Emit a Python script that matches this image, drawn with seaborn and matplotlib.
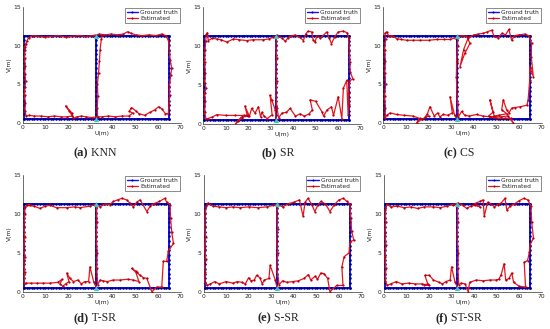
import matplotlib
matplotlib.use("Agg")
import matplotlib.pyplot as plt
from matplotlib.lines import Line2D
import seaborn as sns

# ---------------- data ----------------
panel_tags = ['(a)', '(b)', '(c)', '(d)', '(e)', '(f)']
panel_names = ['KNN', 'SR', 'CS', 'T-SR', 'S-SR', 'ST-SR']

# ground-truth route (corners, walked in order) and its sample marks
gt_path_u = [32.5, 0.5, 0.5, 64.8, 64.8, 32.5, 32.5]
gt_path_v = [0.5, 0.5, 11.3, 11.3, 0.5, 0.5, 11.3]
gt_u_marks = [0.5, 1.7, 2.9, 4.1, 5.2, 6.4, 7.6, 8.8, 10.0, 11.2, 12.4, 13.5, 14.7, 15.9,
              17.1, 18.3, 19.5, 20.6, 21.8, 23.0, 24.2, 25.4, 26.6, 27.7, 28.9, 30.1, 31.3,
              32.5, 33.7, 34.9, 36.1, 37.3, 38.5, 39.7, 40.9, 42.1, 43.3, 44.5, 45.7, 46.9,
              48.1, 49.3, 50.5, 51.7, 52.9, 54.1, 55.3, 56.5, 57.7, 58.9, 60.0, 61.2, 62.4,
              63.6, 64.8]
gt_v_marks = [0.5, 1.1, 1.7, 2.3, 2.9, 3.5, 4.1, 4.7, 5.3, 5.9, 6.5, 7.1, 7.7, 8.3, 8.9,
              9.5, 10.1, 10.7, 11.3]
gt_u_edges = [0.5, 32.5, 64.8]
gt_v_edges = [0.5, 11.3]
start_end_u = [32.5, 32.5]
start_end_v = [0.5, 11.3]

knn_est = [(32.6, 0.8), (30.5, 0.7), (28, 0.8), (26, 0.9), (24, 0.8), (22.5, 0.6), (21.8, 1.3),
           (19, 2.2), (20.5, 1.6), (22, 0.9), (19.5, 0.8), (17, 0.8), (14, 0.9), (11, 0.8),
           (8, 0.9), (5, 0.9), (3, 1.0), (1.5, 0.9), (1.0, 1.6), (1.2, 2.6), (0.8, 3.6),
           (1.0, 4.6), (1.3, 5.4), (0.9, 6.4), (1.1, 7.4), (0.8, 8.4), (1.0, 9.4), (1.4, 10.2),
           (1.0, 9.8), (1.8, 10.6), (2.6, 11.0), (4.5, 11.3), (7, 11.2), (10, 11.1), (13, 11.2),
           (16, 11.3), (19, 11.1), (22, 11.2), (25, 11.3), (28, 11.2), (31, 11.3), (34, 11.5),
           (36.5, 11.4), (39, 11.5), (42, 11.4), (44.5, 11.5), (46.5, 11.8), (48, 11.6),
           (50, 11.4), (53, 11.3), (56, 11.4), (59, 11.3), (61.5, 11.5), (63.5, 11.3),
           (64.6, 10.6), (65.0, 9.3), (65.3, 8.2), (66.0, 7.1), (65.6, 6.2), (65.0, 4.8),
           (65.1, 3.6), (64.8, 2.3), (64.5, 1.2), (63.2, 1.2), (61.8, 1.8), (60.2, 2.1),
           (58.5, 1.7), (56.5, 1.4), (54, 1.0), (51.5, 1.2), (50, 1.6), (48.2, 2.0), (47.2, 1.5),
           (48.8, 1.3), (47, 0.9), (44, 0.9), (41, 0.8), (38, 0.9), (35, 0.8), (33.2, 0.8),
           (33.0, 2.0), (33.3, 3.5), (33.1, 5.0), (33.6, 6.5), (34.0, 8.0), (34.3, 9.5),
           (34.8, 10.8), (35.2, 11.4)]

sr_est = [(32.4, 0.6), (32.0, 1.8), (30.4, 3.1), (29.7, 3.7), (30.6, 1.2), (28.5, 0.7), (27, 1.0),
          (26, 1.5), (25.5, 0.9), (24.5, 2.2), (23, 1.4), (21.5, 2.0), (20.5, 1.0), (18.5, 2.3),
          (19.5, 1.2), (17, 0.8), (15.5, 0.4), (14, -0.1), (17, 0.9), (20, 1.0), (18, 1.1),
          (14, 1.1), (10, 1.1), (6, 1.2), (4, 0.9), (2, 0.7), (1.2, 0.6), (0.6, 1.5), (0.9, 3.0),
          (0.6, 4.0), (1.2, 4.6), (0.7, 5.2), (0.9, 6.5), (0.6, 8.0), (0.8, 9.5), (1.0, 10.6),
          (1.4, 11.5), (1.8, 11.7), (2.2, 10.7), (4, 11.0), (6, 10.9), (8, 10.8), (10.4, 10.5),
          (13.4, 10.9), (16, 10.8), (19.3, 10.7), (22, 10.8), (26.7, 10.8), (29, 10.9),
          (31, 11.1), (33, 11.3), (35, 11.0), (36.5, 10.6), (37.5, 11.0), (39, 11.3),
          (40.8, 11.4), (43, 11.1), (44.5, 10.7), (45.5, 11.5), (46.5, 11.9), (48.2, 11.8),
          (48.8, 10.8), (49.7, 10.5), (50.5, 11.3), (52, 11.0), (54.9, 11.8), (56, 11.0),
          (57, 10.3), (58.5, 11.2), (60, 11.8), (62.3, 11.9), (64.0, 11.7), (64.6, 11.0),
          (65.0, 9.4), (65.2, 8.0), (65.3, 6.7), (66.5, 5.8), (65.0, 5.5), (64.6, 4.0),
          (64.8, 2.5), (64.4, 1.2), (63.8, 5.6), (62.3, 4.6), (61.6, 0.7), (60.0, 3.5),
          (57.9, 1.1), (57.0, 2.2), (55.0, 1.8), (53.5, 1.0), (52.7, 1.6), (50.0, 2.9),
          (47.5, 3.1), (48.5, 1.8), (47, 1.3), (45, 1.0), (43, 1.3), (41, 1.0), (38.6, 2.0),
          (37, 1.5), (35, 1.4), (33.5, 0.8), (32.8, 2.0), (32.2, 4.0), (32.7, 5.5), (32.2, 7.0),
          (32.6, 8.5), (32.3, 10.0), (32.6, 11.4)]

cs_est = [(32.5, 0.5), (31.5, 1.0), (29.5, 3.4), (30.5, 1.3), (28.5, 1.0), (26.5, 1.1), (25, 0.8),
          (24, 1.3), (22.5, 0.9), (20.6, 2.1), (19.5, 1.2), (18.5, 0.8), (20, 0.9), (17, 0.5),
          (14.7, 0.0), (16, 0.6), (13, 0.9), (9, 1.0), (5.9, 1.1), (3, 1.3), (1.5, 1.0),
          (0.8, 0.6), (0.9, 2.0), (0.6, 3.5), (1.0, 5.0), (0.7, 6.5), (0.9, 8.0), (0.6, 9.5),
          (1.0, 10.8), (0.7, 11.6), (1.5, 11.8), (2.5, 11.2), (4, 11.3), (5.9, 10.9), (8, 10.8),
          (10.3, 10.7), (13, 10.7), (16.2, 10.7), (20, 10.7), (23.6, 10.8), (27, 10.8),
          (29.5, 10.8), (31.5, 11.0), (33.1, 11.2), (35, 11.3), (36.8, 11.2), (38.3, 10.3),
          (36, 9.0), (33.9, 7.3), (35.5, 9.5), (37.5, 11.0), (40, 11.4), (42, 11.5), (44.2, 11.6),
          (46, 11.8), (47.9, 12.0), (49, 11.2), (50.5, 11.0), (52.5, 11.6), (54, 11.4),
          (55.5, 12.1), (56.7, 10.7), (58, 11.3), (60, 11.4), (62.5, 11.5), (64.2, 11.3),
          (65.5, 10.3), (65.4, 8.5), (66.3, 6.0), (64.8, 7.3), (64.7, 5.5), (64.0, 3.0),
          (63.5, 2.3), (60.4, 2.1), (58, 2.0), (56.7, 1.9), (55.5, 1.3), (54.5, 1.7), (53, 3.0),
          (52.3, 1.7), (54.6, 1.2), (51, 1.0), (49, 0.9), (47.1, 3.0), (48.5, 1.4), (46.5, 0.9),
          (50, 0.6), (54, 0.6), (56.5, 0.6), (57.4, 0.0), (55, 0.9), (52, 0.8), (47, 0.8),
          (44, 0.9), (41.2, 1.1), (38, 0.9), (36, 1.0), (34.6, 1.5), (33.2, 0.8), (32.8, 2.5),
          (32.5, 4.0), (32.3, 6.0), (32.4, 8.0), (32.8, 10.0), (33.0, 11.3)]

tsr_est = [(32.5, 0.6), (31.5, 1.2), (29.8, 3.2), (29.2, 1.3), (27.5, 1.3), (26, 1.0), (24.5, 1.5),
           (22.5, 1.3), (21, 1.7), (19.5, 2.4), (20.5, 1.3), (19, 1.0), (17.8, 0.7), (16.5, 1.0),
           (17.5, 1.6), (15.5, 1.2), (12, 1.1), (9, 1.1), (6.2, 1.1), (3.5, 1.1), (1.5, 1.1),
           (0.7, 1.0), (0.8, 2.5), (0.6, 4.0), (1.0, 4.4), (0.5, 5.5), (0.8, 7.0), (0.6, 8.5),
           (0.9, 10.0), (1.0, 10.9), (3.2, 11.2), (1.8, 11.1), (5, 11.0), (7.7, 10.7), (10, 11.0),
           (12, 11.1), (15, 10.8), (19.5, 10.8), (23, 10.9), (25.4, 10.8), (29.8, 11.0),
           (32, 11.2), (34.3, 10.9), (36.5, 11.3), (38.5, 11.2), (40.2, 11.6), (42, 11.8),
           (43.9, 12.0), (46, 11.8), (47.5, 11.4), (49, 10.9), (50.5, 11.5), (52, 11.8),
           (55, 10.3), (56.5, 11.0), (58, 11.3), (60.5, 11.6), (63, 12.0), (63.8, 11.5),
           (65.3, 11.2), (65.5, 9.5), (66, 7.7), (66.8, 6.2), (64.5, 5.2), (63.8, 3.9),
           (62.3, 3.9), (61.6, 0.6), (59.5, 0.6), (57.2, 0.0), (55, 1.7), (53.5, 1.8), (52, 2.1),
           (50.5, 2.5), (48.3, 3.0), (50, 2.6), (51.5, 1.3), (49, 1.5), (46.5, 1.6), (43, 1.5),
           (40, 1.5), (37.5, 1.3), (35.5, 1.4), (34.3, 1.5), (33.2, 0.9), (32.8, 3.0),
           (33.0, 5.0), (32.6, 7.0), (32.9, 9.0), (32.7, 11.0)]

ssr_est = [(32.5, 0.6), (31.8, 1.5), (29.5, 3.4), (29, 1.7), (27, 1.5), (26, 1.0), (25, 1.8),
           (23.5, 2.1), (22.5, 1.5), (21, 1.4), (20, 1.8), (18.5, 1.0), (17, 1.2), (15, 1.3),
           (13, 1.1), (10, 1.3), (7, 1.0), (5, 1.3), (3, 1.0), (1.5, 0.8), (0.6, 1.2), (0.8, 2.5),
           (0.4, 3.7), (1.0, 4.2), (0.6, 5.5), (0.9, 7.0), (0.6, 8.5), (0.8, 10.0), (1.2, 11.0),
           (2.0, 11.4), (4, 11.0), (7, 10.9), (10, 10.8), (13, 10.9), (16, 10.8), (20, 10.9),
           (24, 10.8), (28, 10.9), (31, 11.1), (33, 11.2), (35, 10.9), (37.5, 11.3), (40, 11.5),
           (42.5, 11.8), (44.1, 9.7), (45, 11.5), (46.3, 12.0), (48.0, 11.2), (49.3, 10.3),
           (50.8, 11.2), (52, 11.6), (54, 11.3), (56, 10.3), (58, 11.2), (60, 11.8), (62, 12.0),
           (63.5, 11.6), (64.8, 11.3), (65.3, 9.5), (65.6, 7.8), (66.6, 6.6), (64.8, 6.4),
           (64.5, 5.0), (62.3, 4.5), (61.3, 3.2), (61.8, 0.8), (59, 0.8), (56, 0.0), (55, 1.7),
           (53.5, 2.3), (52, 2.4), (50.5, 1.6), (49.5, 2.0), (47.5, 1.5), (46.5, 2.2),
           (44.5, 1.7), (42, 1.4), (39.5, 1.3), (37, 1.2), (35, 1.4), (33.5, 0.9), (32.5, 3.0),
           (32.8, 5.0), (32.4, 6.5), (32.8, 8.0), (32.5, 10.0), (32.8, 11.3)]

stsr_est = [(32.5, 0.6), (31.5, 1.3), (30, 3.2), (29.4, 1.5), (27.5, 1.3), (26, 1.0), (24.5, 1.2),
            (22, 1.5), (20.2, 2.1), (18.2, 2.1), (19.5, 1.0), (18, 0.9), (20, 0.8), (17, 1.0),
            (14, 1.0), (11, 1.1), (8, 1.0), (5.5, 1.3), (3, 1.0), (1.5, 0.8), (0.7, 1.4),
            (0.9, 3.0), (0.6, 4.5), (0.9, 6.0), (0.6, 7.5), (0.8, 9.0), (0.7, 10.5), (1.5, 11.3),
            (3, 10.9), (6, 11.0), (9, 10.8), (12, 10.9), (15, 10.7), (18, 10.9), (22, 10.9),
            (25, 10.8), (28, 11.0), (30.5, 11.2), (33, 11.4), (35, 11.1), (36.7, 10.7),
            (38.5, 11.0), (40.5, 11.1), (42.6, 10.9), (40, 11.3), (42.5, 11.6), (44, 11.8),
            (44.5, 9.7), (46, 11.5), (47.5, 11.3), (49, 10.9), (50.5, 11.2), (52, 11.4),
            (53.7, 12.0), (54.5, 10.5), (56, 11.0), (58, 11.3), (60, 11.7), (62, 12.0),
            (63.8, 11.8), (65.2, 11.0), (65.5, 9.0), (66.3, 6.9), (64.8, 6.0), (64.5, 5.1),
            (63.7, 4.0), (62.2, 3.8), (62.8, 0.6), (60, 0.7), (57.5, 1.2), (56.7, 2.4),
            (55.5, 1.7), (54, 1.5), (53.3, 3.6), (52, 2.2), (51, 1.6), (49.5, 1.5), (47, 1.5),
            (44, 1.4), (41, 1.5), (38, 1.2), (37.4, 0.0), (36, 1.0), (34.3, 1.1), (33.2, 0.9),
            (32.8, 3.0), (33.0, 5.0), (32.5, 7.0), (32.8, 9.0), (32.6, 11.2)]

estimates = [knn_est, sr_est, cs_est, tsr_est, ssr_est, stsr_est]

x_ticks = [0, 10, 20, 30, 40, 50, 60, 70]
y_ticks = [0, 5, 10, 15]

# ---------------- layout (pixels: left, top, width, height) ----------------
W, H = 550, 329
boxes = [(22.7, 7, 158, 116), (203.3, 7, 157.4, 117), (383.3, 7, 158.4, 116),
         (22.7, 175, 158, 116.7), (203.5, 175, 158, 116.7), (383.8, 175, 158, 116.7)]
caption_x = [95, 278, 459, 95, 278, 459]
caption_y = [153, 153, 153, 318, 318, 318]

sns.set_style("white")
plt.rcParams['font.family'] = ['DejaVu Sans']

fig = plt.figure(figsize=(W / 100, H / 100), dpi=100)
fig.patch.set_facecolor('white')

GT_BLUE = '#1010ff'
EST_RED = '#e8141c'

# dot positions along the ground truth route
dot_u = [u for u in gt_u_marks for _ in gt_v_edges] + [u for _ in gt_v_marks for u in gt_u_edges]
dot_v = [v for _ in gt_u_marks for v in gt_v_edges] + [v for v in gt_v_marks for _ in gt_u_edges]

caps = []
for i, (l, t, w, h) in enumerate(boxes):
    ax = fig.add_axes([l / W, 1 - (t + h) / H, w / W, h / H])
    est_u = [p[0] for p in estimates[i]]
    est_v = [p[1] for p in estimates[i]]

    sns.lineplot(x=gt_path_u, y=gt_path_v, sort=False, estimator=None, color=GT_BLUE,
                 lw=1.4, ax=ax)
    sns.scatterplot(x=dot_u, y=dot_v, s=3.5, color='#00008a', linewidth=0, ax=ax, zorder=3)
    sns.lineplot(x=est_u, y=est_v, sort=False, estimator=None, color=EST_RED, lw=0.9,
                 marker='o', markersize=1.6, markeredgewidth=0, markerfacecolor='#b00010',
                 ax=ax, zorder=4)
    sns.scatterplot(x=start_end_u, y=start_end_v, marker='^', s=14, color='#3cc8c8',
                    linewidth=0, ax=ax, zorder=5)

    ax.set_xlim(0, 70)
    ax.set_ylim(0, 15)
    ax.set_xticks(x_ticks)
    ax.set_yticks(y_ticks)
    ax.tick_params(direction='in', length=1.5, width=0.4, labelsize=4.3, pad=1.5,
                   colors='#222222')
    for s in ['top', 'right']:
        ax.spines[s].set_visible(False)
    for s in ['left', 'bottom']:
        ax.spines[s].set_linewidth(0.5)
        ax.spines[s].set_color('#333333')
    ax.set_xlabel('U(m)', fontsize=4.3, labelpad=1, color='#222222')
    ax.set_ylabel('V(m)', fontsize=4.3, labelpad=1, color='#222222')

    handles = [Line2D([], [], color=GT_BLUE, lw=1.0, marker='o', markersize=1.5,
                      markerfacecolor='#00008a', markeredgewidth=0),
               Line2D([], [], color=EST_RED, lw=0.9, marker='o', markersize=1.5,
                      markerfacecolor='#b00010', markeredgewidth=0)]
    leg = ax.legend(handles, ['Ground truth', 'Estimated'], loc='upper right',
                    bbox_to_anchor=(1.0, 1.0), fontsize=4.2, frameon=True, fancybox=False,
                    edgecolor='#333333', framealpha=1, borderpad=0.3, labelspacing=0.15,
                    handlelength=2.0, handletextpad=0.3, borderaxespad=0.2)
    leg.get_frame().set_linewidth(0.4)

    fy = 1 - caption_y[i] / H
    t1 = fig.text(caption_x[i] / W, fy, panel_tags[i], fontsize=9, fontweight='bold',
                  family='Liberation Serif', ha='left', va='center')
    t2 = fig.text(caption_x[i] / W, fy, ' ' + panel_names[i], fontsize=8.5,
                  family='Liberation Serif', ha='left', va='center')
    caps.append((t1, t2, caption_x[i]))

# center each two-part caption on its anchor
fig.canvas.draw()
r = fig.canvas.get_renderer()
for t1, t2, cx in caps:
    w1 = t1.get_window_extent(r).width
    w2 = t2.get_window_extent(r).width
    x0 = cx - (w1 + w2) / 2
    t1.set_x(x0 / W)
    t2.set_x((x0 + w1) / W)

fig.savefig('out.png', dpi=100)
